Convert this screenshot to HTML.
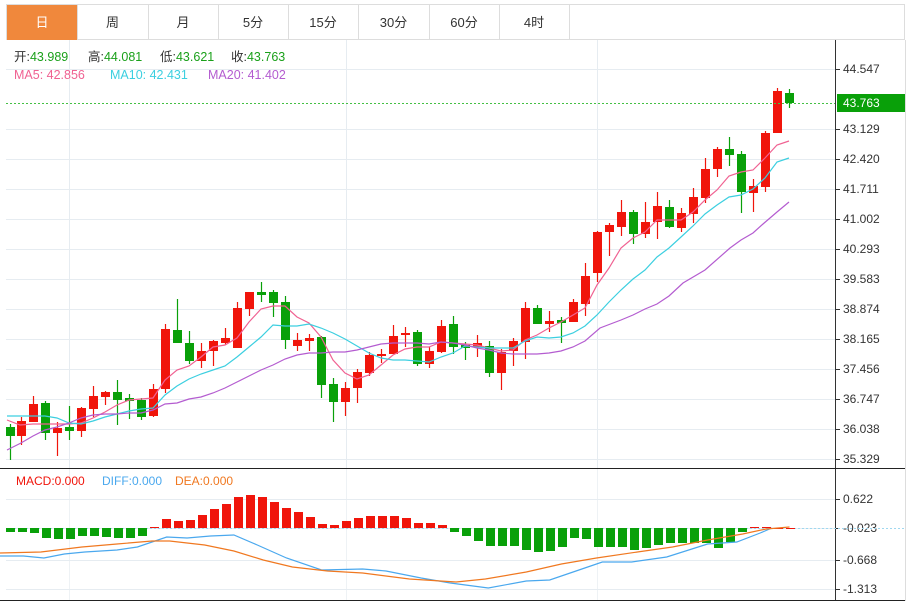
<!DOCTYPE html>
<html><head><meta charset="utf-8"><style>
body{margin:0;background:#fff;width:913px;height:601px;overflow:hidden;font-family:"Liberation Sans","Noto Sans CJK SC",sans-serif}
</style></head><body>
<svg id="s" width="913" height="601" xmlns="http://www.w3.org/2000/svg" font-family="Liberation Sans, Noto Sans CJK SC, sans-serif"></svg>
<script>
var s=document.getElementById('s'),h='';
function L(x1,y1,x2,y2,c,w,d){h+='<line x1="'+x1+'" y1="'+y1+'" x2="'+x2+'" y2="'+y2+'" stroke="'+c+'" stroke-width="'+(w||1)+'"'+(d?' stroke-dasharray="'+d+'"':'')+'/>';}
function R(x,y,w,hh,c){h+='<rect x="'+x+'" y="'+y+'" width="'+w+'" height="'+hh+'" fill="'+c+'"/>';}
function T(x,y,t,c,sz,a){h+='<text x="'+x+'" y="'+y+'" fill="'+c+'" font-size="'+(sz||12)+'"'+(a?' text-anchor="'+a+'"':'')+'>'+t+'</text>';}
function P(pts,c,w){h+='<polyline fill="none" stroke="'+c+'" stroke-width="'+(w||1.2)+'" points="'+pts.map(function(p){return p.join(',')}).join(' ')+'"/>';}
// tabs
R(6,4,899,36,'#fff');h+='<rect x="6.5" y="4.5" width="898" height="35" fill="none" stroke="#ddd"/>';
var tb=[7,77,148,218,288,358,429,499,569];
R(7,5,70,35,'#f0883c');
var tabs=['日','周','月','5分','15分','30分','60分','4时'];
for(var i=0;i<8;i++){var x=tb[i];if(i>0)L(x+0.5,4,x+0.5,40,'#ddd');T((tb[i]+tb[i+1])/2,27,tabs[i],i==0?'#fff':'#333',13,'middle');}
L(569.5,4,569.5,40,'#ddd');
// grid main
var lab=['44.547','','43.129','42.420','41.711','41.002','40.293','39.583','38.874','38.165','37.456','36.747','36.038','35.329'];
for(var i=0;i<14;i++){var y=69+i*30;if(i==1)continue;L(6,y+0.5,835,y+0.5,'#e6ecf1');L(835,y+0.5,840,y+0.5,'#333');T(843,y+4,lab[i],'#333',12);}
[69,346,597].forEach(function(x){L(x+0.5,40,x+0.5,468,'#e6ecf1');L(x+0.5,469,x+0.5,600,'#eef2f5');});
L(835.5,40,835.5,601,'#333');L(905.5,40,905.5,601,'#ddd');
L(0,468.5,905,468.5,'#222');L(0,600.5,905,600.5,'#222');
// candles [x,o,c,hi,lo]
var C=[[10,427,436,424,460,0],[21,436,421,417,445],[33,422,404,396,422],[45,403,433,401,440,0],[57,433,428,422,456],[69,427,431,406,440,0],[81,431,408,407,437],[93,409,396,386,417],[105,397,392,391,405],[117,392,400,380,425,0],[129,398,401,394,419,0],[141,400,417,398,420,0],[153,416,389,384,417],[165,389,329,324,393],[177,330,343,299,343,0],[189,343,361,331,364,0],[201,361,351,343,368],[213,351,341,340,366],[225,343,338,328,345],[237,348,308,302,348],[249,309,292,292,316],[261,292,295,282,302,0],[273,292,303,290,317,0],[285,302,340,296,349,0],[297,346,340,333,351],[309,341,338,334,351],[321,337,385,336,398,0],[333,384,402,378,422,0],[345,402,388,382,416],[357,388,372,369,403],[369,373,355,352,376],[381,356,354,349,363],[393,354,336,325,354],[405,335,333,327,347],[417,332,364,330,366,0],[429,364,351,347,368],[441,352,326,320,353],[453,324,347,316,354,0],[465,345,348,342,360,0],[477,347,343,335,357],[489,346,373,341,377,0],[501,373,352,349,390],[513,351,341,338,366],[525,342,308,302,359],[537,308,324,305,324,0],[549,324,321,311,332],[561,320,323,317,343,0],[573,322,302,299,322],[585,304,276,263,316],[597,273,232,231,282],[609,232,225,223,256],[621,227,212,200,236],[633,212,234,210,244,0],[645,234,222,202,238],[657,222,206,192,239],[669,207,227,200,228,0],[681,228,213,208,232],[693,214,197,188,223],[705,198,169,158,203],[717,169,149,147,177],[729,149,155,137,166,0],[741,154,192,151,213,0],[753,193,186,179,212],[765,187,133,131,192],[777,133,91,88,133],[789,93,103,89,108,0]];
C.forEach(function(c){var col=c.length>5?'#09a009':'#f0150b';L(c[0]+0.5,c[3],c[0]+0.5,c[4],col,1.2);var t=Math.min(c[1],c[2]),b=Math.max(c[1],c[2]);R(c[0]-4,t,9,Math.max(b-t,2),col);});
// MAs
P([[7,420],[20,425],[33,424],[45,424],[57,424],[69,424],[81,423],[93,418],[105,412],[117,405],[129,400],[141,399],[153,398],[165,380],[177,370],[189,366],[201,357],[213,347],[225,345],[237,338],[249,322],[261,309],[273,306],[285,306],[297,317],[309,323],[321,337],[333,360],[345,373],[357,379],[369,375],[381,365],[393,355],[405,349],[417,347],[429,347],[441,342],[453,343],[465,344],[477,345],[489,348],[501,351],[513,350],[525,340],[537,335],[549,328],[561,322],[573,315],[585,308],[597,285],[609,268],[621,248],[633,238],[645,232],[657,220],[669,220],[681,220],[693,212],[705,200],[717,190],[729,176],[741,172],[753,170],[765,158],[777,145],[789,141]],'#f06292');
P([[7,416],[21,416],[33,416],[45,416],[57,418],[69,423],[81,424],[93,421],[105,417],[117,414],[129,411],[141,409],[153,408],[165,395],[177,386],[189,379],[201,374],[213,370],[225,366],[237,357],[249,347],[261,337],[273,325],[285,326],[297,326],[309,324],[321,328],[333,333],[345,339],[357,346],[369,353],[381,358],[393,360],[405,360],[417,361],[429,362],[441,357],[453,353],[465,346],[477,347],[489,348],[501,348],[513,348],[525,341],[537,337],[549,338],[561,337],[573,333],[585,326],[597,315],[609,302],[621,290],[633,279],[645,270],[657,257],[669,248],[681,237],[693,226],[705,214],[717,205],[729,197],[741,195],[753,189],[765,178],[777,162],[789,158]],'#3ccfe0');
P([[7,450],[21,443],[33,436],[45,430],[57,427],[69,423],[81,418],[93,415],[105,414],[117,414],[129,413],[141,413],[153,410],[165,404],[177,403],[189,399],[201,397],[213,393],[225,388],[237,382],[249,376],[261,370],[273,365],[285,359],[297,355],[309,353],[321,353],[333,352],[345,352],[357,350],[369,347],[381,344],[393,343],[405,343],[417,343],[429,344],[441,342],[453,343],[465,345],[477,348],[489,350],[501,353],[513,354],[525,354],[537,354],[549,353],[561,351],[573,347],[585,341],[600,328],[621,320],[633,315],[645,309],[657,304],[669,296],[683,283],[705,270],[730,248],[741,240],[753,233],[763,224],[777,212],[789,202]],'#b45cd0');
// last price
L(6,103.5,835,103.5,'#44c044',1,'2,2');R(837,94,68,18,'#09a009');T(843,107,'43.763','#fff',12);
// legend
function LG(x,y,a,b,c){h+='<text x="'+x+'" y="'+y+'" font-size="12.5" fill="'+c+'">'+a+'<tspan fill="#1aa01a">'+b+'</tspan></text>';}
LG(14,61,'开:','43.989','#333');LG(88,61,'高:','44.081','#333');LG(160,61,'低:','43.621','#333');LG(231,61,'收:','43.763','#333');
T(14,79,'MA5: 42.856','#f06292',12.5);T(110,79,'MA10: 42.431','#3ccfe0',12.5);T(208,79,'MA20: 41.402','#b45cd0',12.5);
T(16,485,'MACD:0.000','#f0150b',12);T(102,485,'DIFF:0.000','#4aa8ee',12);T(175,485,'DEA:0.000','#f07820',12);
// macd grid
[[499,'0.622'],[528,'-0.023'],[560,'-0.668'],[589,'-1.313']].forEach(function(g){L(6,g[0]+0.5,835,g[0]+0.5,'#e6ecf1');L(835,g[0]+0.5,840,g[0]+0.5,'#333');T(843,g[0]+4,g[1],'#333',12);});
L(6,528.5,905,528.5,'#9fd8f0',1,'2,2');
var M=[532,532,533,538,539,539,536,536,537,538,538,536,527,519,521,520,515,509,504,497,495,497,502,508,512,517,524,525,521,518,516,516,516,518,523,523,525,532,536,541,546,546,546,550,552,551,547,538,539,547,547,547,550,548,545,543,543,543,543,548,542,532,527,527,528,528];
M.forEach(function(v,i){var x=10+i*12;var col=v>528?'#09a009':'#f0150b';var t=Math.min(v,528),b=Math.max(v,528);R(x-4,t,9,Math.max(b-t,1),col);});
function sc(a){return a.map(function(p){return [Math.round(p[0]/1.71*10)/10,p[1]]});}
P(sc([[0,556],[40,556],[75,558],[110,554],[145,552],[200,550],[235,547],[285,537],[320,538],[360,536],[400,535],[440,545],[490,558],[550,570],[620,569],[660,571],[720,578],[770,583],[835,588],[900,581],[940,580],[980,572],[1030,562],[1080,562],[1140,557],[1210,544],[1260,542],[1300,533],[1320,528]]),'#4aa8ee');
P(sc([[0,553],[70,552],[140,547],[200,544],[260,541],[290,541],[350,545],[400,551],[450,560],[500,567],[560,571],[620,573],[700,579],[780,582],[830,579],[900,572],[960,564],[1020,558],[1090,552],[1150,547],[1210,540],[1270,534],[1310,529],[1350,527]]),'#f07820');
s.innerHTML=h;
</script>
</body></html>
